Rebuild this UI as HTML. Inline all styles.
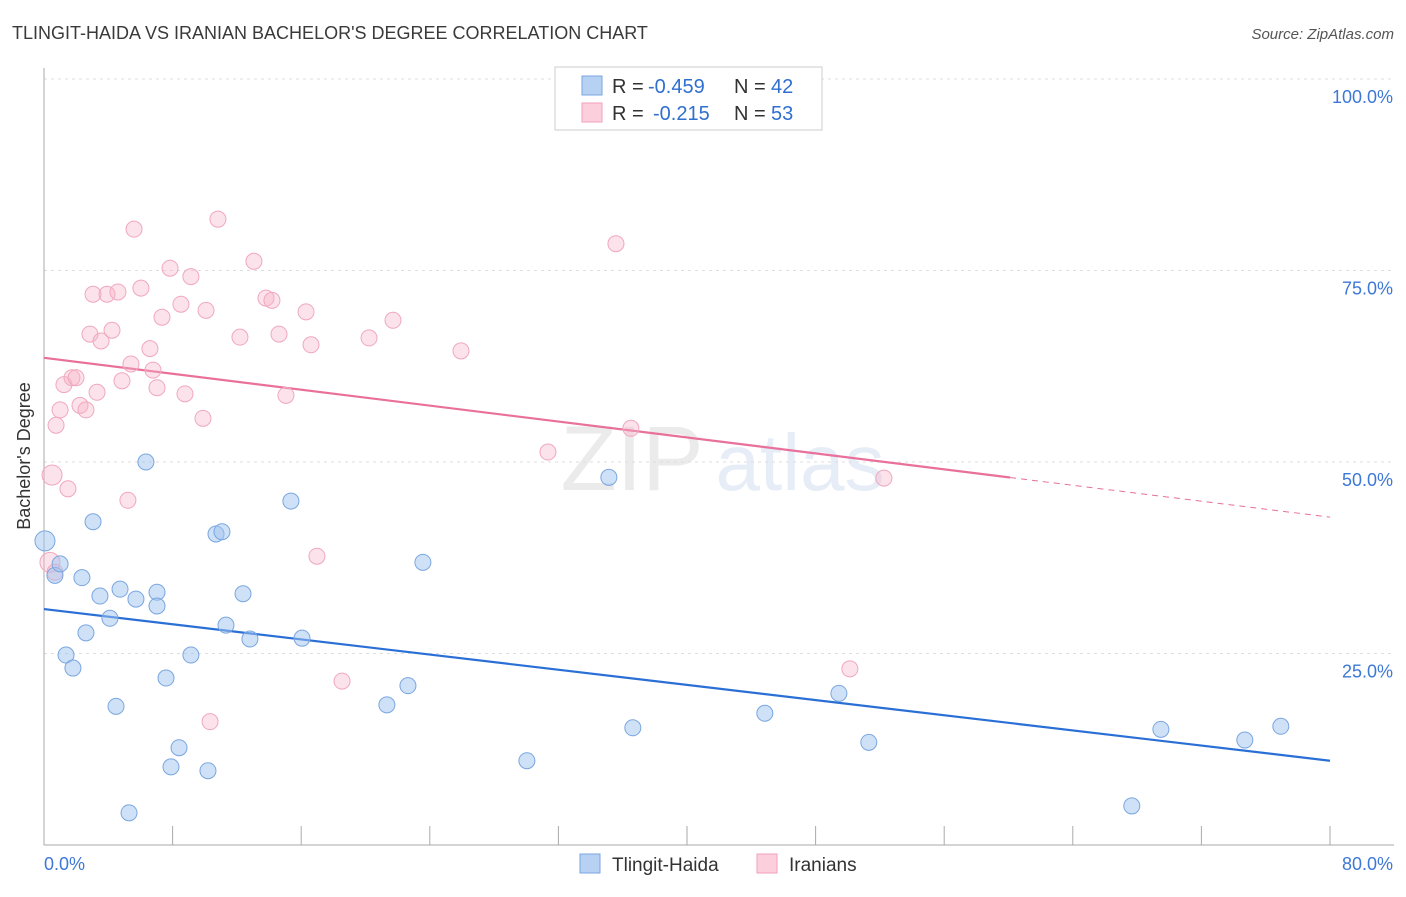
<!DOCTYPE html>
<html><head><meta charset="utf-8"><style>
body{margin:0;background:#fff;font-family:"Liberation Sans",sans-serif;}
svg text{font-family:"Liberation Sans",sans-serif;}
</style></head><body>
<svg id="chart" width="1406" height="892" viewBox="0 0 1406 892" xmlns="http://www.w3.org/2000/svg">
<text x="12" y="39" font-size="18" fill="#3a3a3a">TLINGIT-HAIDA VS IRANIAN BACHELOR'S DEGREE CORRELATION CHART</text>
<text x="1394" y="39" font-size="15" fill="#555" font-style="italic" text-anchor="end">Source: ZipAtlas.com</text>
<text x="30" y="456" font-size="18" fill="#333" text-anchor="middle" transform="rotate(-90 30 456)">Bachelor's Degree</text>
<g opacity="0.35">
<text x="632" y="490" font-size="92" fill="#c8c8c8" font-family="Liberation Serif" text-anchor="middle">ZIP</text>
<text x="800" y="490" font-size="80" fill="#b8cdea" text-anchor="middle">atlas</text>
</g>
<g id="grid"></g><g id="axes"></g><g id="lines"></g><g id="points"></g>
<g>
<rect x="555" y="67" width="267" height="63" fill="#fff" stroke="#ccc"/>
<rect x="582" y="76" width="20" height="19" fill="#b7d1f3" stroke="#7aa6e0"/>
<text x="612" y="93" font-size="20" fill="#333">R =</text>
<text x="648" y="93" font-size="20" fill="#2f6fd0">-0.459</text>
<text x="734" y="93" font-size="20" fill="#333">N =</text>
<text x="771" y="93" font-size="20" fill="#2f6fd0">42</text>
<rect x="582" y="103" width="20" height="19" fill="#fbd0dc" stroke="#f0a0b8"/>
<text x="612" y="120" font-size="20" fill="#333">R =</text>
<text x="653" y="120" font-size="20" fill="#2f6fd0">-0.215</text>
<text x="734" y="120" font-size="20" fill="#333">N =</text>
<text x="771" y="120" font-size="20" fill="#2f6fd0">53</text>
</g>
<g>
<rect x="580" y="854" width="20" height="19" fill="#b7d1f3" stroke="#7aa6e0"/>
<text x="612" y="871" font-size="19" fill="#333">Tlingit-Haida</text>
<rect x="757" y="854" width="20" height="19" fill="#fbd0dc" stroke="#f0a0b8"/>
<text x="789" y="871" font-size="19" fill="#333">Iranians</text>
</g>
</svg>
<script>
const blueX=[0.06,0.68,1.0,1.37,1.8,2.36,2.61,3.05,3.48,4.1,4.48,4.73,5.29,5.72,6.34,7.03,7.03,7.59,7.9,8.4,9.14,10.2,10.7,11.07,11.32,12.38,12.81,15.36,16.05,21.33,22.64,23.57,30.04,35.14,36.63,44.84,49.45,51.31,67.67,69.48,74.7,76.94];
const blueY=[39.7,35.2,36.7,24.8,23.1,34.9,27.7,42.2,32.5,29.6,18.1,33.4,4.2,32.1,50.0,33.0,31.2,21.8,10.2,12.7,24.8,9.7,40.6,40.9,28.7,32.8,26.9,44.9,27.0,18.3,20.8,36.9,11.0,48.0,15.3,17.2,19.8,13.4,5.1,15.1,13.7,15.5];
const pinkX=[0.5,0.75,1.0,1.24,1.49,1.74,1.99,2.24,2.61,2.86,3.05,3.3,3.55,3.92,4.23,4.6,4.85,5.22,5.41,5.6,6.03,6.59,6.78,7.03,7.34,7.84,8.52,8.77,9.14,9.89,10.08,10.33,10.82,12.19,13.06,13.81,14.18,14.62,15.05,16.3,16.61,16.98,18.54,20.22,21.71,25.94,31.35,35.58,36.51,50.13,52.25,0.37,0.68];
const pinkY=[48.3,54.8,56.8,60.1,46.5,61.0,61.0,57.4,56.8,66.7,71.9,59.1,65.8,71.9,67.2,72.2,60.6,45.0,62.8,80.4,72.7,64.8,62.0,59.7,68.9,75.3,70.6,58.9,74.2,55.7,69.8,16.1,81.7,66.3,76.2,71.4,71.1,66.7,58.7,69.6,65.3,37.7,21.4,66.2,68.5,64.5,51.3,78.5,54.4,23.0,47.9,36.9,35.6];
const blueTrend=[30.8,11.0];
const pinkTrend=[63.6,42.8];
const pinkSolidEnd=60.1;
const yTicks=[25,50,75,100];
const yTickLabels=["25.0%","50.0%","75.0%","100.0%"];
const xTicks=[0,8,16,24,32,40,48,56,64,72,80];

const NS="http://www.w3.org/2000/svg";
const X=v=>44+v/80*1286;
const Y=v=>845-v/100*766;
function mk(tag,attrs,parent){const e=document.createElementNS(NS,tag);for(const k in attrs)e.setAttribute(k,attrs[k]);parent.appendChild(e);return e;}
const grid=document.getElementById('grid'),axes=document.getElementById('axes'),lines=document.getElementById('lines'),pts=document.getElementById('points');
yTicks.forEach((t,i)=>{
 const l=mk('line',{x1:44,x2:1394,y1:Y(t),y2:Y(t),stroke:'#ddd','stroke-dasharray':'3,4'},grid);
 
 
 const tx=mk('text',{x:1393,y:Y(t)+24,'font-size':18,fill:'#3d78d6','text-anchor':'end'},axes);
 tx.textContent=yTickLabels[i];
 
 
});
const ax=mk('line',{x1:44,x2:44,y1:68,y2:845,stroke:'#aaa'},axes);


const bx=mk('line',{x1:44,x2:1394,y1:845,y2:845,stroke:'#aaa'},axes);


xTicks.forEach(t=>{
 const l=mk('line',{x1:X(t),x2:X(t),y1:826,y2:845,stroke:'#aaa'},axes);
 
 
});
const xl0=mk('text',{x:44,y:870,'font-size':18,fill:'#3d78d6'},axes);xl0.textContent='0.0%';


const xl1=mk('text',{x:1393,y:870,'font-size':18,fill:'#3d78d6','text-anchor':'end'},axes);xl1.textContent='80.0%';



function pinkAt(v){return pinkTrend[0]+(pinkTrend[1]-pinkTrend[0])*v/80;}
const bl=mk('line',{x1:X(0),y1:Y(blueTrend[0]),x2:X(80),y2:Y(blueTrend[1]),stroke:'#2a6fd6','stroke-width':2.2},lines);


const pl=mk('line',{x1:X(0),y1:Y(pinkTrend[0]),x2:X(pinkSolidEnd),y2:Y(pinkAt(pinkSolidEnd)),stroke:'#e8709a','stroke-width':2.2},lines);


const pd=mk('line',{x1:X(pinkSolidEnd),y1:Y(pinkAt(pinkSolidEnd)),x2:X(80),y2:Y(pinkTrend[1]),stroke:'#e8709a','stroke-width':1,'stroke-dasharray':'6,5'},lines);



pinkX.forEach((v,i)=>{
 const c=mk('circle',{cx:X(v),cy:Y(pinkY[i]),r:(v<0.6?10:8),fill:'rgba(248,180,200,0.38)',stroke:'#f0a8be','stroke-width':1},pts);
 
 
});
blueX.forEach((v,i)=>{
 const c=mk('circle',{cx:X(v),cy:Y(blueY[i]),r:(v<0.2?10:8),fill:'rgba(160,195,240,0.5)',stroke:'#7aa6e0','stroke-width':1},pts);
 
 
});
</script>
</body></html>
